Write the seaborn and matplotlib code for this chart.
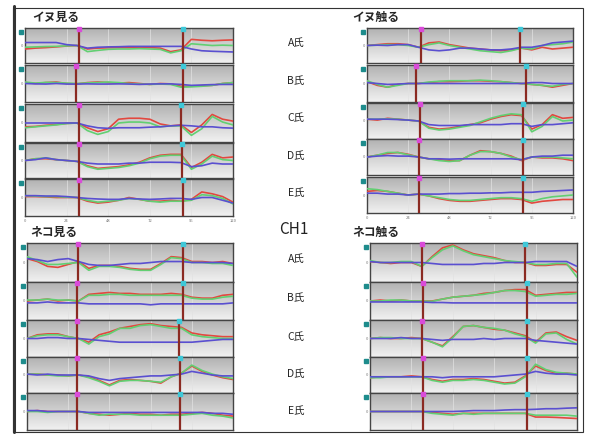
import numpy as np
import pandas as pd
import matplotlib
matplotlib.use("Agg")
import matplotlib.pyplot as plt
import seaborn as sns
from matplotlib.colors import LinearSegmentedColormap
from matplotlib.patches import Rectangle
from matplotlib.lines import Line2D

# ----------------------
# data (y normalised to -1..1)
# ----------------------
hours = list(range(0, 121, 6))
subjects = ["A氏", "B氏", "C氏", "D氏", "E氏"]
panel_titles = ["イヌ見る", "イヌ触る", "ネコ見る", "ネコ触る"]
x_ticks = [0, 24, 48, 72, 96, 120]

# イヌ見る
dog_look_red = [
    [-0.2, -0.15, -0.12, -0.08, -0.03, 0.0, -0.2, -0.15, -0.13, -0.12, -0.12, -0.1, -0.12, -0.15, -0.35, -0.25, 0.35, 0.3, 0.27, 0.3, 0.32],
    [0.05, 0.0, 0.05, 0.08, 0.0, -0.02, 0.05, 0.08, 0.05, 0.02, 0.05, 0.0, -0.05, 0.0, -0.02, -0.15, -0.15, -0.12, -0.1, 0.0, 0.05],
    [-0.2, -0.18, -0.12, -0.08, -0.02, 0.0, -0.25, -0.45, -0.3, 0.2, 0.25, 0.25, 0.2, -0.05, -0.15, -0.1, -0.5, -0.1, 0.45, 0.2, 0.1],
    [0.0, 0.1, 0.1, 0.05, 0.0, -0.05, -0.3, -0.45, -0.4, -0.35, -0.25, -0.1, 0.15, 0.3, 0.35, 0.35, -0.4, -0.1, 0.35, 0.15, 0.2],
    [0.05, 0.05, 0.03, 0.0, 0.0, 0.0, -0.2, -0.3, -0.25, -0.15, 0.0, -0.1, -0.2, -0.2, -0.15, -0.2, -0.1, 0.3, 0.2, 0.05, -0.25],
]
dog_look_green = [
    [-0.1, -0.08, -0.06, -0.05, -0.02, 0.0, -0.35, -0.28, -0.22, -0.2, -0.2, -0.18, -0.2, -0.22, -0.42, -0.3, 0.1, 0.05, 0.0, 0.02, 0.0],
    [0.08, 0.02, 0.06, 0.05, 0.02, 0.0, 0.03, 0.05, 0.08, 0.05, 0.0, -0.03, -0.05, -0.03, -0.05, -0.2, -0.18, -0.15, -0.1, 0.0, 0.05],
    [-0.25, -0.2, -0.15, -0.1, -0.03, 0.0, -0.4, -0.6, -0.45, 0.0, 0.05, 0.05, 0.0, -0.2, -0.15, -0.15, -0.65, -0.3, 0.35, 0.05, -0.1],
    [0.0, 0.1, 0.15, 0.05, 0.0, -0.05, -0.35, -0.5, -0.45, -0.4, -0.3, -0.15, 0.1, 0.25, 0.3, 0.3, -0.5, -0.2, 0.25, 0.05, 0.0],
    [0.1, 0.08, 0.05, 0.05, 0.02, 0.0, -0.15, -0.25, -0.2, -0.15, -0.05, -0.1, -0.2, -0.25, -0.2, -0.2, -0.15, 0.15, 0.1, -0.05, -0.35],
]
dog_look_blue = [
    [0.17, 0.17, 0.17, 0.17, 0.05, 0.0, -0.15, -0.1, -0.08, -0.07, -0.05, -0.05, -0.05, -0.05, -0.05, -0.05, -0.2, -0.3, -0.33, -0.35, -0.37],
    [0.0, -0.02, -0.03, 0.0, -0.03, -0.03, -0.02, -0.03, -0.03, -0.02, -0.03, -0.05, -0.03, -0.02, -0.02, -0.05, -0.1, -0.08, -0.06, -0.05, -0.05],
    [0.0, 0.0, 0.0, 0.0, 0.0, 0.0, -0.15, -0.25, -0.28, -0.25, -0.25, -0.25, -0.22, -0.2, -0.15, -0.12, -0.15, -0.2, -0.2, -0.25, -0.27],
    [0.0, 0.05, 0.15, 0.05, 0.0, -0.05, -0.15, -0.2, -0.2, -0.2, -0.15, -0.15, -0.1, -0.1, -0.1, -0.12, -0.35, -0.3, -0.15, -0.2, -0.2],
    [0.1, 0.1, 0.08, 0.08, 0.05, 0.0, -0.05, -0.08, -0.1, -0.1, -0.05, -0.08, -0.1, -0.08, -0.05, -0.05, -0.1, 0.0, 0.0, -0.15, -0.3],
]
dog_look_events = [(31, 91), (29.5, 91), (31, 90), (31, 90.5), (31, 91)]

# イヌ触る
dog_touch_red = [
    [0.0, 0.05, 0.1, 0.1, 0.05, -0.1, 0.15, 0.2, 0.05, -0.05, -0.15, -0.2, -0.25, -0.3, -0.25, -0.15, -0.25, -0.1, -0.2, -0.15, -0.1],
    [0.1, -0.1, -0.2, -0.05, 0.0, 0.0, 0.05, 0.1, 0.1, 0.12, 0.15, 0.15, 0.12, 0.1, 0.05, 0.0, -0.05, -0.1, -0.2, -0.1, 0.0],
    [0.1, 0.05, 0.15, 0.1, 0.05, 0.0, -0.35, -0.45, -0.4, -0.3, -0.2, -0.1, 0.1, 0.25, 0.35, 0.3, -0.45, -0.2, 0.35, 0.15, 0.2],
    [0.0, 0.1, 0.2, 0.25, 0.15, 0.0, -0.1, -0.15, -0.2, -0.2, 0.1, 0.35, 0.3, 0.2, 0.05, -0.2, 0.0, -0.05, -0.05, -0.1, -0.2],
    [0.2, 0.25, 0.2, 0.1, 0.0, 0.05, -0.05, -0.2, -0.3, -0.35, -0.35, -0.3, -0.25, -0.2, -0.2, -0.25, -0.45, -0.35, -0.3, -0.25, -0.25],
]
dog_touch_green = [
    [0.0, 0.02, 0.05, 0.05, 0.0, -0.1, 0.05, 0.15, 0.0, -0.1, -0.2, -0.3, -0.35, -0.4, -0.3, -0.15, -0.2, 0.0, 0.05, 0.1, 0.2],
    [0.15, -0.05, -0.2, -0.1, 0.0, 0.0, 0.08, 0.12, 0.15, 0.15, 0.15, 0.18, 0.15, 0.1, 0.05, 0.0, -0.05, -0.1, -0.15, -0.05, 0.0],
    [0.1, 0.1, 0.12, 0.1, 0.05, 0.0, -0.4, -0.5, -0.45, -0.35, -0.25, -0.05, 0.15, 0.3, 0.4, 0.35, -0.6, -0.3, 0.25, 0.0, 0.05],
    [0.0, 0.1, 0.25, 0.25, 0.12, 0.0, -0.1, -0.2, -0.25, -0.2, 0.1, 0.3, 0.3, 0.2, 0.0, -0.15, 0.0, 0.0, 0.0, -0.05, -0.1],
    [0.35, 0.3, 0.2, 0.1, 0.0, 0.05, -0.05, -0.15, -0.25, -0.3, -0.3, -0.25, -0.2, -0.15, -0.15, -0.2, -0.35, -0.2, -0.1, -0.05, 0.0],
]
dog_touch_blue = [
    [0.0, 0.02, 0.0, 0.05, 0.05, -0.1, -0.25, -0.3, -0.25, -0.15, -0.15, -0.2, -0.25, -0.25, -0.2, -0.1, -0.1, 0.0, 0.15, 0.2, 0.25],
    [0.05, 0.0, -0.05, -0.03, 0.0, 0.0, 0.0, 0.0, 0.0, 0.0, 0.0, 0.0, 0.0, 0.0, 0.0, 0.0, 0.05, 0.05, 0.0, 0.0, 0.0],
    [0.1, 0.1, 0.1, 0.08, 0.05, 0.0, -0.2, -0.25, -0.25, -0.25, -0.2, -0.2, -0.2, -0.2, -0.15, -0.15, -0.3, -0.2, -0.2, -0.15, -0.1],
    [0.0, 0.05, 0.08, 0.05, 0.05, 0.0, -0.1, -0.1, -0.12, -0.1, -0.1, -0.1, -0.1, -0.1, -0.1, -0.15, 0.0, 0.05, 0.05, 0.1, 0.1],
    [0.1, 0.1, 0.05, 0.05, 0.0, 0.05, 0.05, 0.05, 0.08, 0.08, 0.1, 0.1, 0.12, 0.12, 0.15, 0.15, 0.15, 0.2, 0.22, 0.25, 0.28],
]
dog_touch_events = [(31.5, 89), (28.5, 92.5), (30.7, 91), (30, 91), (30.3, 90.7)]

# ネコ見る
cat_look_red = [
    [0.2, 0.05, -0.2, -0.25, -0.1, 0.05, -0.3, -0.15, -0.15, -0.2, -0.3, -0.35, -0.35, -0.05, 0.3, 0.25, 0.05, 0.05, 0.0, 0.05, -0.05],
    [0.0, 0.05, 0.1, 0.0, 0.05, 0.0, 0.35, 0.4, 0.45, 0.4, 0.4, 0.35, 0.35, 0.35, 0.4, 0.35, 0.2, 0.15, 0.15, 0.3, 0.35],
    [0.0, 0.2, 0.25, 0.25, 0.1, 0.0, -0.2, 0.2, 0.35, 0.55, 0.65, 0.75, 0.8, 0.7, 0.65, 0.6, 0.3, 0.2, 0.15, 0.1, 0.1],
    [0.05, 0.05, 0.0, 0.0, -0.05, 0.0, -0.1, -0.3, -0.55, -0.3, -0.25, -0.3, -0.35, -0.45, -0.1, 0.1, 0.5, 0.2, 0.0, -0.15, -0.25],
    [0.0, 0.05, 0.0, 0.0, 0.0, 0.0, -0.1, -0.15, -0.2, -0.15, -0.1, -0.15, -0.15, -0.2, -0.15, -0.15, -0.1, -0.05, -0.1, -0.2, -0.25],
]
cat_look_green = [
    [0.3, 0.1, -0.1, -0.1, -0.05, 0.0, -0.4, -0.2, -0.2, -0.25, -0.35, -0.4, -0.4, -0.1, 0.25, 0.2, 0.0, 0.0, -0.05, -0.05, -0.15],
    [0.05, 0.05, 0.1, 0.05, 0.05, 0.0, 0.3, 0.3, 0.35, 0.35, 0.3, 0.3, 0.3, 0.3, 0.3, 0.3, 0.15, 0.1, 0.1, 0.2, 0.25],
    [0.0, 0.15, 0.2, 0.2, 0.1, 0.0, -0.3, 0.1, 0.25, 0.55, 0.55, 0.7, 0.75, 0.65, 0.55, 0.55, 0.2, 0.1, 0.05, 0.0, 0.0],
    [0.05, 0.05, 0.0, -0.05, -0.05, 0.0, -0.15, -0.35, -0.6, -0.35, -0.3, -0.3, -0.35, -0.4, -0.1, 0.1, 0.55, 0.25, 0.05, -0.1, -0.2],
    [0.0, 0.0, -0.05, 0.0, 0.0, 0.0, -0.1, -0.2, -0.15, -0.15, -0.15, -0.2, -0.2, -0.2, -0.2, -0.2, -0.15, -0.1, -0.2, -0.25, -0.35],
]
cat_look_blue = [
    [0.2, 0.15, 0.05, 0.15, 0.2, 0.05, -0.1, -0.15, -0.15, -0.1, -0.05, -0.05, 0.0, 0.05, 0.05, 0.05, 0.0, 0.0, 0.0, 0.0, -0.05],
    [-0.1, -0.1, -0.05, -0.1, -0.1, -0.1, -0.15, -0.15, -0.15, -0.15, -0.15, -0.15, -0.2, -0.15, -0.15, -0.15, -0.15, -0.15, -0.15, -0.15, -0.1],
    [0.0, 0.0, 0.05, 0.05, 0.0, 0.0, -0.05, -0.1, -0.15, -0.2, -0.2, -0.2, -0.2, -0.2, -0.2, -0.2, -0.2, -0.15, -0.1, -0.05, -0.05],
    [0.05, 0.0, 0.05, 0.0, 0.0, 0.0, -0.05, -0.2, -0.3, -0.2, -0.15, -0.1, -0.05, -0.05, 0.0, 0.05, 0.2, 0.1, 0.0, -0.05, -0.05],
    [0.05, 0.05, 0.0, 0.0, 0.0, 0.0, -0.05, -0.05, -0.05, -0.05, -0.05, -0.05, -0.05, -0.05, -0.05, -0.05, -0.05, -0.05, -0.1, -0.1, -0.15],
]
cat_look_events = [(29.5, 91), (29, 91), (29, 88.5), (29, 89), (29, 89)]

# ネコ触る
cat_touch_red = [
    [0.05, 0.0, -0.05, 0.0, 0.0, -0.2, 0.3, 0.75, 0.9, 0.65, 0.45, 0.35, 0.25, 0.1, 0.0, 0.0, -0.15, -0.15, -0.1, -0.1, -0.5],
    [0.0, 0.05, 0.0, 0.05, 0.0, 0.0, 0.0, 0.1, 0.2, 0.25, 0.3, 0.4, 0.45, 0.55, 0.6, 0.6, 0.3, 0.35, 0.4, 0.45, 0.45],
    [0.0, 0.05, 0.0, 0.0, 0.05, 0.0, -0.2, -0.4, 0.1, 0.65, 0.7, 0.6, 0.5, 0.45, 0.3, 0.15, -0.2, 0.3, 0.35, 0.1, -0.1],
    [-0.15, -0.1, -0.1, -0.1, -0.05, -0.1, -0.25, -0.35, -0.25, -0.25, -0.2, -0.25, -0.35, -0.45, -0.4, -0.05, 0.5, 0.25, 0.1, 0.1, 0.05],
    [0.0, 0.0, 0.0, 0.0, 0.0, 0.0, -0.05, -0.1, -0.15, -0.1, -0.1, -0.1, -0.1, -0.1, -0.1, -0.1, -0.3, -0.3, -0.32, -0.35, -0.38],
]
cat_touch_green = [
    [0.1, 0.0, 0.0, 0.05, 0.05, -0.2, 0.25, 0.65, 0.85, 0.6, 0.4, 0.3, 0.2, 0.1, 0.05, 0.0, -0.1, -0.1, -0.05, -0.05, -0.75],
    [0.0, 0.0, 0.05, 0.05, 0.0, 0.0, -0.02, 0.1, 0.2, 0.25, 0.3, 0.35, 0.45, 0.55, 0.55, 0.5, 0.25, 0.3, 0.35, 0.35, 0.4],
    [0.0, 0.05, 0.05, 0.0, 0.0, 0.0, -0.2, -0.45, 0.05, 0.65, 0.7, 0.6, 0.55, 0.45, 0.25, 0.1, -0.25, 0.25, 0.3, -0.05, -0.3],
    [-0.15, -0.15, -0.1, -0.1, -0.1, -0.1, -0.3, -0.4, -0.3, -0.3, -0.25, -0.3, -0.4, -0.5, -0.45, -0.1, 0.6, 0.3, 0.15, 0.1, 0.05],
    [0.0, 0.0, 0.0, 0.0, 0.0, 0.0, -0.1, -0.15, -0.2, -0.1, -0.15, -0.1, -0.1, -0.1, -0.1, -0.1, -0.2, -0.2, -0.2, -0.2, -0.25],
]
cat_touch_blue = [
    [0.05, 0.0, 0.0, 0.0, 0.0, 0.0, -0.05, -0.1, -0.1, -0.1, -0.1, -0.05, -0.05, 0.0, 0.0, 0.0, 0.05, 0.05, 0.05, 0.05, -0.2],
    [-0.05, -0.05, -0.05, -0.05, -0.05, -0.05, -0.08, -0.08, -0.1, -0.1, -0.1, -0.1, -0.1, -0.1, -0.1, -0.1, -0.1, -0.1, -0.1, -0.1, -0.1],
    [0.0, 0.0, 0.0, 0.05, 0.0, 0.0, -0.05, -0.1, -0.05, -0.05, -0.05, 0.0, -0.05, 0.0, 0.0, 0.0, -0.1, -0.15, -0.2, -0.25, -0.3],
    [-0.1, -0.1, -0.1, -0.1, -0.1, -0.1, -0.1, -0.15, -0.1, -0.1, -0.1, -0.1, -0.1, -0.05, 0.0, 0.05, 0.2, 0.1, 0.05, 0.05, 0.0],
    [0.0, 0.0, 0.0, 0.0, 0.0, 0.0, 0.0, 0.0, 0.0, 0.02, 0.05, 0.05, 0.05, 0.08, 0.1, 0.1, 0.12, 0.15, 0.15, 0.18, 0.2],
]
cat_touch_events = [(30, 90), (30.5, 91), (30.4, 91), (30.5, 91), (30.5, 91)]

# ----------------------
# style / layout (pixel boxes)
# ----------------------
sns.set_style("white")
plt.rcParams['font.family'] = ['Noto Sans CJK JP', 'DejaVu Sans']

W, H = 589, 434
pal = {"red": "#e2483f", "green": "#62cf72", "blue": "#5a4fd0"}
# darker grey at the top of each strip, fading to near white at the bottom
bg_cmap = LinearSegmentedColormap.from_list("bg", ["#b2b2b2", "#d2d2d2", "#f1f1f1"])
grad = np.linspace(0, 1, 64).reshape(-1, 1)

panels = [
    (dog_look_red, dog_look_green, dog_look_blue, dog_look_events, 25, 233,
     [(28, 63), (65, 102), (104, 142), (143, 178), (179, 216)], True),
    (dog_touch_red, dog_touch_green, dog_touch_blue, dog_touch_events, 367, 573,
     [(28, 63), (65, 102), (103, 139), (139, 175), (177, 213)], True),
    (cat_look_red, cat_look_green, cat_look_blue, cat_look_events, 27, 233,
     [(243, 282), (282, 320), (320, 357), (357, 393), (393, 430)], False),
    (cat_touch_red, cat_touch_green, cat_touch_blue, cat_touch_events, 370, 577,
     [(243, 282), (282, 320), (320, 357), (357, 393), (393, 430)], False),
]
title_pos = [(32, 17), (352, 17), (30, 232), (352, 232)]
label_y_top = [43, 81, 118, 156, 193]
label_y_bot = [259, 298, 337, 374, 411]


def px_axes(fig, x0, x1, y0, y1):
    return fig.add_axes([x0 / W, 1 - y1 / H, (x1 - x0) / W, (y1 - y0) / H])


def draw_row(ax, red, green, blue, ev, show_x):
    # row 0 of grad (darkest) goes to the top with origin='upper'
    ax.imshow(grad, extent=(0, 120, -1, 1), aspect='auto', cmap=bg_cmap,
              vmin=0, vmax=1, origin='upper', zorder=0)
    df = pd.DataFrame({
        't': hours * 3,
        'v': red + green + blue,
        'ch': ['red'] * len(hours) + ['green'] * len(hours) + ['blue'] * len(hours),
    })
    sns.lineplot(data=df, x='t', y='v', hue='ch', palette=pal, ax=ax,
                 legend=False, linewidth=1.2, zorder=3)
    for x in x_ticks[1:-1]:
        ax.axvline(x, color='#e2e2e2', lw=0.5, zorder=1)
    for e, mc in zip(ev, ['#d94bd9', '#3fc8d8']):
        ax.axvline(e, color='#8b2a22', lw=1.6, zorder=4)
        ax.plot([e], [0.93], marker='s', ms=2.5, color=mc, zorder=5, clip_on=False)
    ax.plot([-2.5], [0.8], marker='s', ms=3.5, color='#1e8c8c', clip_on=False, zorder=6)
    ax.set_xlim(0, 120)
    ax.set_ylim(-1, 1)
    ax.set_yticks([0])
    ax.set_yticklabels(['0'], fontsize=3, color='#777777')
    ax.tick_params(axis='y', length=0, pad=1.5)
    ax.set_xticks(x_ticks)
    if show_x:
        ax.set_xticklabels([str(v) for v in x_ticks], fontsize=3, color='#777777')
        ax.tick_params(axis='x', length=1.5, pad=1, width=0.4, color='#888888')
    else:
        ax.set_xticklabels([])
        ax.tick_params(axis='x', length=0)
    ax.set_xlabel('')
    ax.set_ylabel('')
    for s in ax.spines.values():
        s.set_color('#444444')
        s.set_linewidth(1.0)


fig = plt.figure(figsize=(W / 100, H / 100), dpi=100)

for (red, green, blue, events, x0, x1, rows, show_bottom) in panels:
    for i, (y0, y1) in enumerate(rows):
        ax = px_axes(fig, x0, x1, y0, y1)
        draw_row(ax, red[i], green[i], blue[i], events[i], show_bottom and i == len(rows) - 1)

for t, (tx, ty) in zip(panel_titles, title_pos):
    fig.text(tx / W, 1 - ty / H, t, fontsize=8.5, fontweight='bold', va='center', ha='left')

for name, ya, yb in zip(subjects, label_y_top, label_y_bot):
    fig.text(296 / W, 1 - ya / H, name, fontsize=7.5, va='center', ha='center', color='#222222')
    fig.text(296 / W, 1 - yb / H, name, fontsize=7.5, va='center', ha='center', color='#222222')

fig.text(294 / W, 1 - 229 / H, "CH1", fontsize=11, va='center', ha='center', color='#222222')

# outer frame of the scanned figure
fig.add_artist(Rectangle((13 / W, 2 / H), (583 - 13) / W, (432 - 8) / H,
                         transform=fig.transFigure, fill=False, ec='#333333', lw=0.8))
fig.add_artist(Line2D([14 / W, 14 / W], [2 / H, 1 - 6 / H], transform=fig.transFigure,
                      color='#333333', lw=2.2))

fig.savefig("out.png", dpi=100)
